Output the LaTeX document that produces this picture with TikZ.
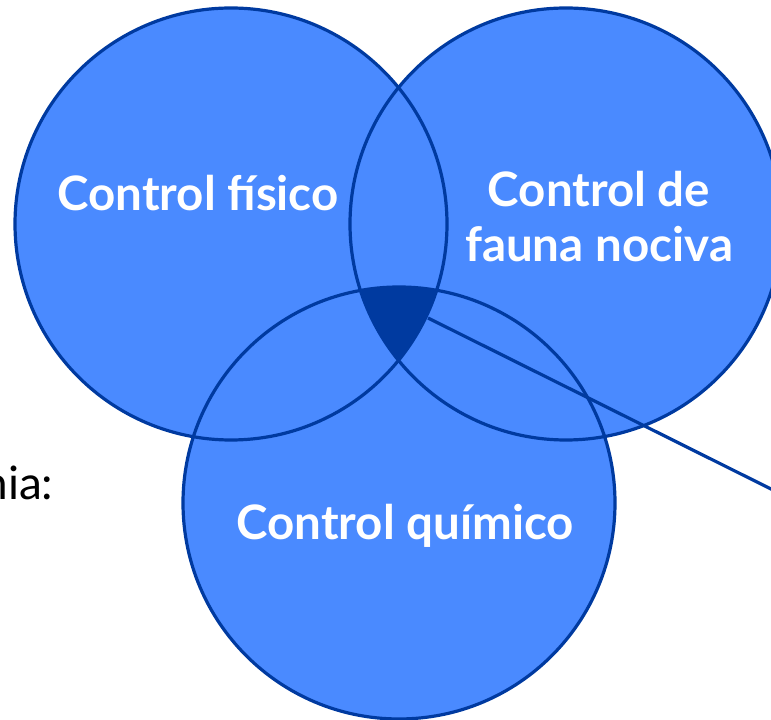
\documentclass[tikz,border=0pt]{standalone}
\usepackage{fontspec}
\setmainfont{Lato}
\usetikzlibrary{positioning}
\definecolor{vennfill}{RGB}{74,138,255}
\definecolor{venndark}{RGB}{0,58,160}

\begin{document}
\begin{tikzpicture}[
				x=1pt, y=1pt,
				set/.style={circle, minimum size=432pt, inner sep=0pt},
				label/.style={text=white, font=\fontsize{47.5}{55}\selectfont\bfseries, align=center}
			]
				\useasboundingbox (0,0) rectangle (771,720);
				\node [set, fill=vennfill] (fisico) at (231,496) {};
				\node [set, fill=vennfill] (fauna) at (566,496) {};
				\node [set, fill=vennfill] (quimico) at (399,217) {};
				% zona comun
				\begin{scope}
					\clip (231,496) circle (216);
					\clip (566,496) circle (216);
					\fill [venndark] (399,217) circle (216);
				\end{scope}
				\foreach \c in {fisico, fauna, quimico}
					\draw [venndark, line width=3.2pt] (\c.center) circle (216);
				\node [label] (tfisico) at (198,527) {Control físico};
				\node [label] (tfauna) at (599,503) {Control de\\fauna nociva};
				\node [label] (tquimico) at (405,194) {Control químico};
				\node [anchor=base east, font=\fontsize{46}{55}\selectfont] (nota) at (57,220) {nia:};
				\coordinate (tip) at (428,402);
				\coordinate (fuera) at (775,229);
				\path [venndark, line width=3.2pt]
					(tip) edge (fuera);
			\end{tikzpicture}
\end{document}
